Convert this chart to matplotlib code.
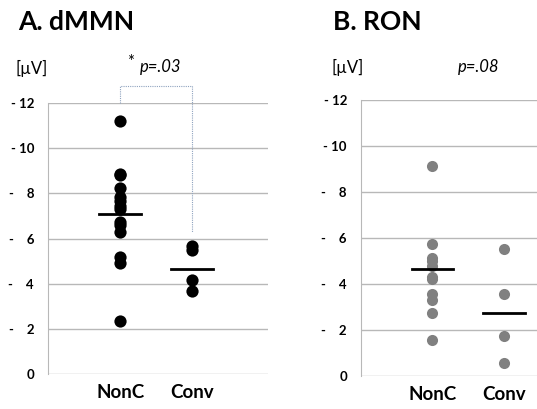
import matplotlib
matplotlib.use("Agg")
import matplotlib.pyplot as plt

plt.rcParams['font.family'] = ['Lato', 'DejaVu Sans']

# dMMN amplitudes (uV, shown as negative)
mmn_nonc = [11.2, 8.85, 8.8, 8.25, 7.85, 7.65, 7.45, 7.3, 6.75, 6.6, 6.3, 5.2, 4.9, 2.35]
mmn_conv = [5.68, 5.5, 4.15, 3.66]
mmn_means = [7.07, 4.65]

# RON amplitudes
ron_nonc = [9.15, 5.75, 5.15, 5.0, 4.8, 4.3, 4.2, 3.55, 3.3, 2.72, 1.55]
ron_conv = [5.5, 3.57, 1.74, 0.58]
ron_means = [4.64, 2.72]

groups = ['NonC', 'Conv']
yticks = [0, 2, 4, 6, 8, 10, 12]
ytick_labels = ['0', '-    2', '-    4', '-    6', '-    8', '- 10', '- 12']

fig = plt.figure(figsize=(5.37, 4.09), dpi=100)
axA = fig.add_axes([0.0894, 0.0856, 0.41, 0.6624])
axB = fig.add_axes([0.672, 0.0807, 0.328, 0.6748])


def draw_panel(ax, nonc, conv, means, color, msize, xmax):
    ax.plot([1] * len(nonc), nonc, 'o', color=color, ms=msize, mec='none', zorder=3)
    ax.plot([2] * len(conv), conv, 'o', color=color, ms=msize, mec='none', zorder=3)
    for i, m in enumerate(means):
        ax.plot([i + 1 - 0.29, i + 1 + 0.29], [m, m], color='black', lw=2, zorder=4)
    ax.set_xlim(0, xmax)
    ax.set_ylim(0, 12)
    ax.set_yticks(yticks)
    ax.set_yticklabels(ytick_labels, fontweight='bold', fontsize=9.5)
    ax.set_xticks([1, 2])
    ax.set_xticklabels(groups, fontweight='bold', fontsize=13.5)
    ax.tick_params(axis='both', length=0)
    ax.tick_params(axis='y', pad=10)
    ax.tick_params(axis='x', pad=7)
    ax.grid(axis='y', color='#b8b8b8', lw=1)
    ax.set_axisbelow(True)
    for s in ['top', 'right', 'bottom']:
        ax.spines[s].set_visible(False)
    ax.spines['left'].set_color('#b8b8b8')


draw_panel(axA, mmn_nonc, mmn_conv, mmn_means, 'black', 8.8, 3.05)
draw_panel(axB, ron_nonc, ron_conv, ron_means, '#808080', 8.0, 2.46)

# significance bracket for dMMN
axA.plot([1, 1, 2, 2], [12.0, 12.74, 12.74, 6.3], color='#8fa3bf', lw=0.8,
         ls=(0, (1, 1)), clip_on=False)

fig.text(0.033, 0.945, 'A. dMMN', fontsize=19, fontweight='bold', va='center')
fig.text(0.62, 0.945, 'B. RON', fontsize=19, fontweight='bold', va='center')
fig.text(0.028, 0.833, '[\u00b5V]', fontsize=12, va='center')
fig.text(0.618, 0.835, '[\u00b5V]', fontsize=12, va='center')
fig.text(0.237, 0.848, '*', fontsize=12, va='center')
fig.text(0.26, 0.835, 'p=.03', fontsize=12, style='italic', va='center')
fig.text(0.852, 0.835, 'p=.08', fontsize=12, style='italic', va='center')

fig.savefig('out.png', dpi=100)
